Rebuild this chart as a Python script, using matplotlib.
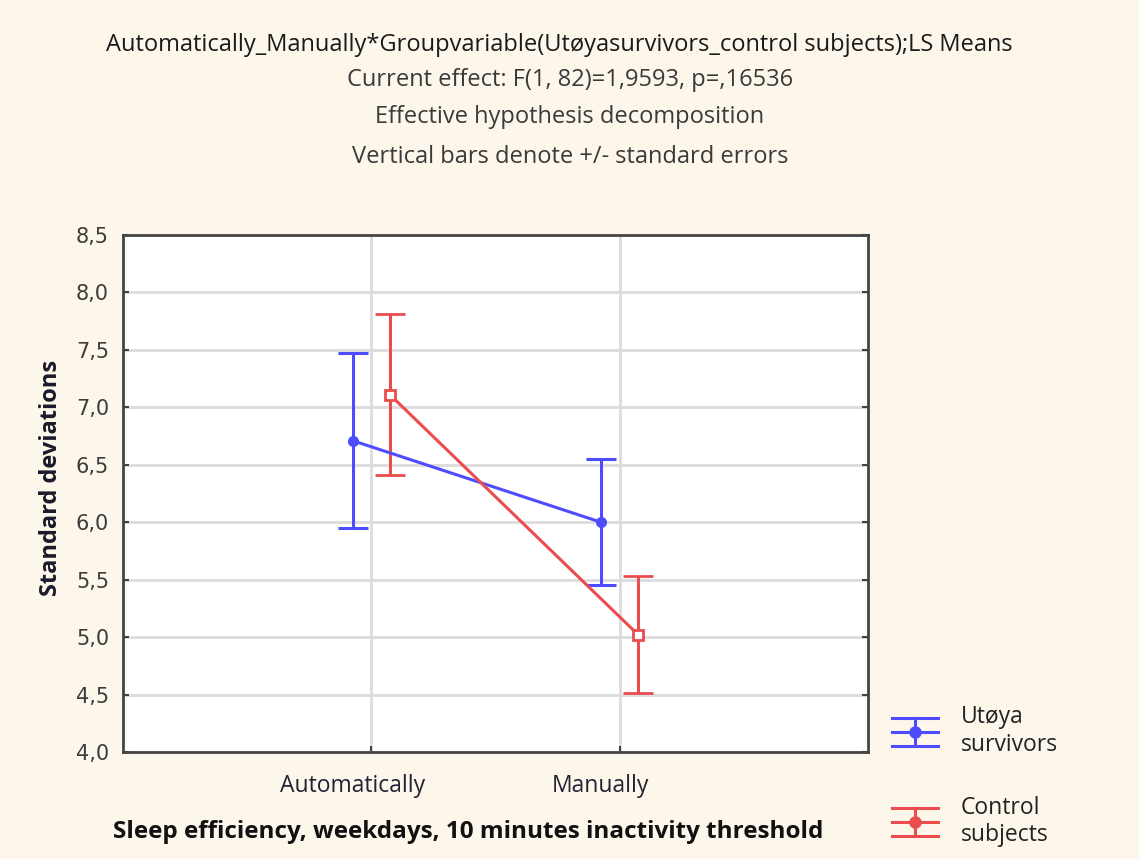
import numpy as np
import matplotlib
matplotlib.use("Agg")
import matplotlib.pyplot as plt
import matplotlib.transforms as mtransforms
from matplotlib.lines import Line2D
from matplotlib.legend_handler import HandlerBase

# data
categories = ["Automatically", "Manually"]
groups = ["Utøya\nsurvivors", "Control\nsubjects"]
means_utoya = [6.71, 6.00]
se_utoya = [0.76, 0.55]
means_control = [7.11, 5.02]
se_control = [0.70, 0.51]
yticks = [4.0, 4.5, 5.0, 5.5, 6.0, 6.5, 7.0, 7.5, 8.0, 8.5]

title_lines = [
    "Automatically_Manually*Groupvariable(Utøyasurvivors_control subjects);LS Means",
    "Current effect: F(1, 82)=1,9593, p=,16536",
    "Effective hypothesis decomposition",
    "Vertical bars denote +/- standard errors",
]

bg = "#fdf6ea"
blue = "#4d4dff"
red = "#eb4d4f"


class HandlerEB(HandlerBase):
    # statistica style key: cap / line / cap with a dot in the middle
    def create_artists(self, legend, orig_handle, xdescent, ydescent,
                       width, height, fontsize, trans):
        c = orig_handle.get_color()
        x0, x1 = -xdescent, -xdescent + width
        cy = height / 2 - ydescent
        d = 10
        arts = []
        for yy in (cy - d, cy, cy + d):
            arts.append(Line2D([x0, x1], [yy, yy], color=c, lw=2.2, transform=trans))
        xm = (x0 + x1) / 2
        arts.append(Line2D([xm, xm], [cy - d, cy + d], color=c, lw=2.2, transform=trans))
        arts.append(Line2D([xm], [cy], marker="o", ms=8, color=c, transform=trans))
        return arts


fig = plt.figure(figsize=(11.39, 8.59), dpi=100, facecolor=bg)
ax = fig.add_axes([0.108, 0.1246, 0.654, 0.6018])
ax.set_facecolor("white")

pos = np.arange(1, len(categories) + 1)
off = 0.075

eb1 = ax.errorbar(pos - off, means_utoya, yerr=se_utoya, color=blue, lw=2.2,
                  marker="o", ms=7, mfc=blue, mec=blue, capsize=11,
                  capthick=2.2, elinewidth=2.2, zorder=3)
eb2 = ax.errorbar(pos + off, means_control, yerr=se_control, color=red, lw=2.2,
                  marker="s", ms=7, mfc="white", mec=red, mew=2, capsize=11,
                  capthick=2.2, elinewidth=2.2, zorder=3)

ax.set_xlim(0, 3)
ax.set_ylim(4.0, 8.5)
ax.set_yticks(yticks)
ax.set_yticklabels([f"{v:.1f}".replace(".", ",") for v in yticks],
                   fontsize=15, color="#3c3c3c", family="DejaVu Sans")
ax.set_xticks(pos)
ax.set_xticklabels(categories, fontsize=16.5, color="#222233", family="Open Sans")
ax.grid(True, color="#dcdcdc", lw=2)
ax.set_axisbelow(True)
ax.tick_params(axis="both", direction="in", length=4, width=1.5, color="#444444")
ax.tick_params(axis="y", right=True, pad=10)
ax.tick_params(axis="x", pad=16)
for sp in ax.spines.values():
    sp.set_color("#444444")
    sp.set_linewidth(2)

# labels sit a bit left of the gridlines in the reference
shift = mtransforms.ScaledTranslation(-19 / 100, 0, fig.dpi_scale_trans)
for lab in ax.get_xticklabels():
    lab.set_transform(lab.get_transform() + shift)

ax.set_ylabel("Standard deviations", fontsize=17, fontweight="bold",
              color="#1a1a2a", family="Open Sans")
ax.yaxis.set_label_coords(-0.08, 0.53)

fig.text(468 / 1139, 1 - 832 / 859, "Sleep efficiency, weekdays, 10 minutes inactivity threshold",
         ha="center", va="center", fontsize=17.5, fontweight="bold", color="#111111",
         family="Open Sans")

ys = [45, 80, 117, 157]
for i, (t, y) in enumerate(zip(title_lines, ys)):
    fig.text(570 / 1139 if i else 559 / 1139, 1 - y / 859, t, ha="center", va="center",
             fontsize=17, color="#1a1a1a" if i == 0 else "#3a3a3a",
             family="Open Sans")

leg = fig.legend([eb1[0], eb2[0]], groups, loc="upper left",
                 bbox_to_anchor=(892 / 1139, 1 - 705 / 859),
                 frameon=False, labelspacing=1.7, borderpad=0, borderaxespad=0,
                 handlelength=2.0, handletextpad=1.0,
                 prop={"family": "Open Sans", "size": 16.5},
                 handler_map={Line2D: HandlerEB()})
for txt in leg.get_texts():
    txt.set_color("#222222")

fig.savefig("out.png", dpi=100, facecolor=bg)
